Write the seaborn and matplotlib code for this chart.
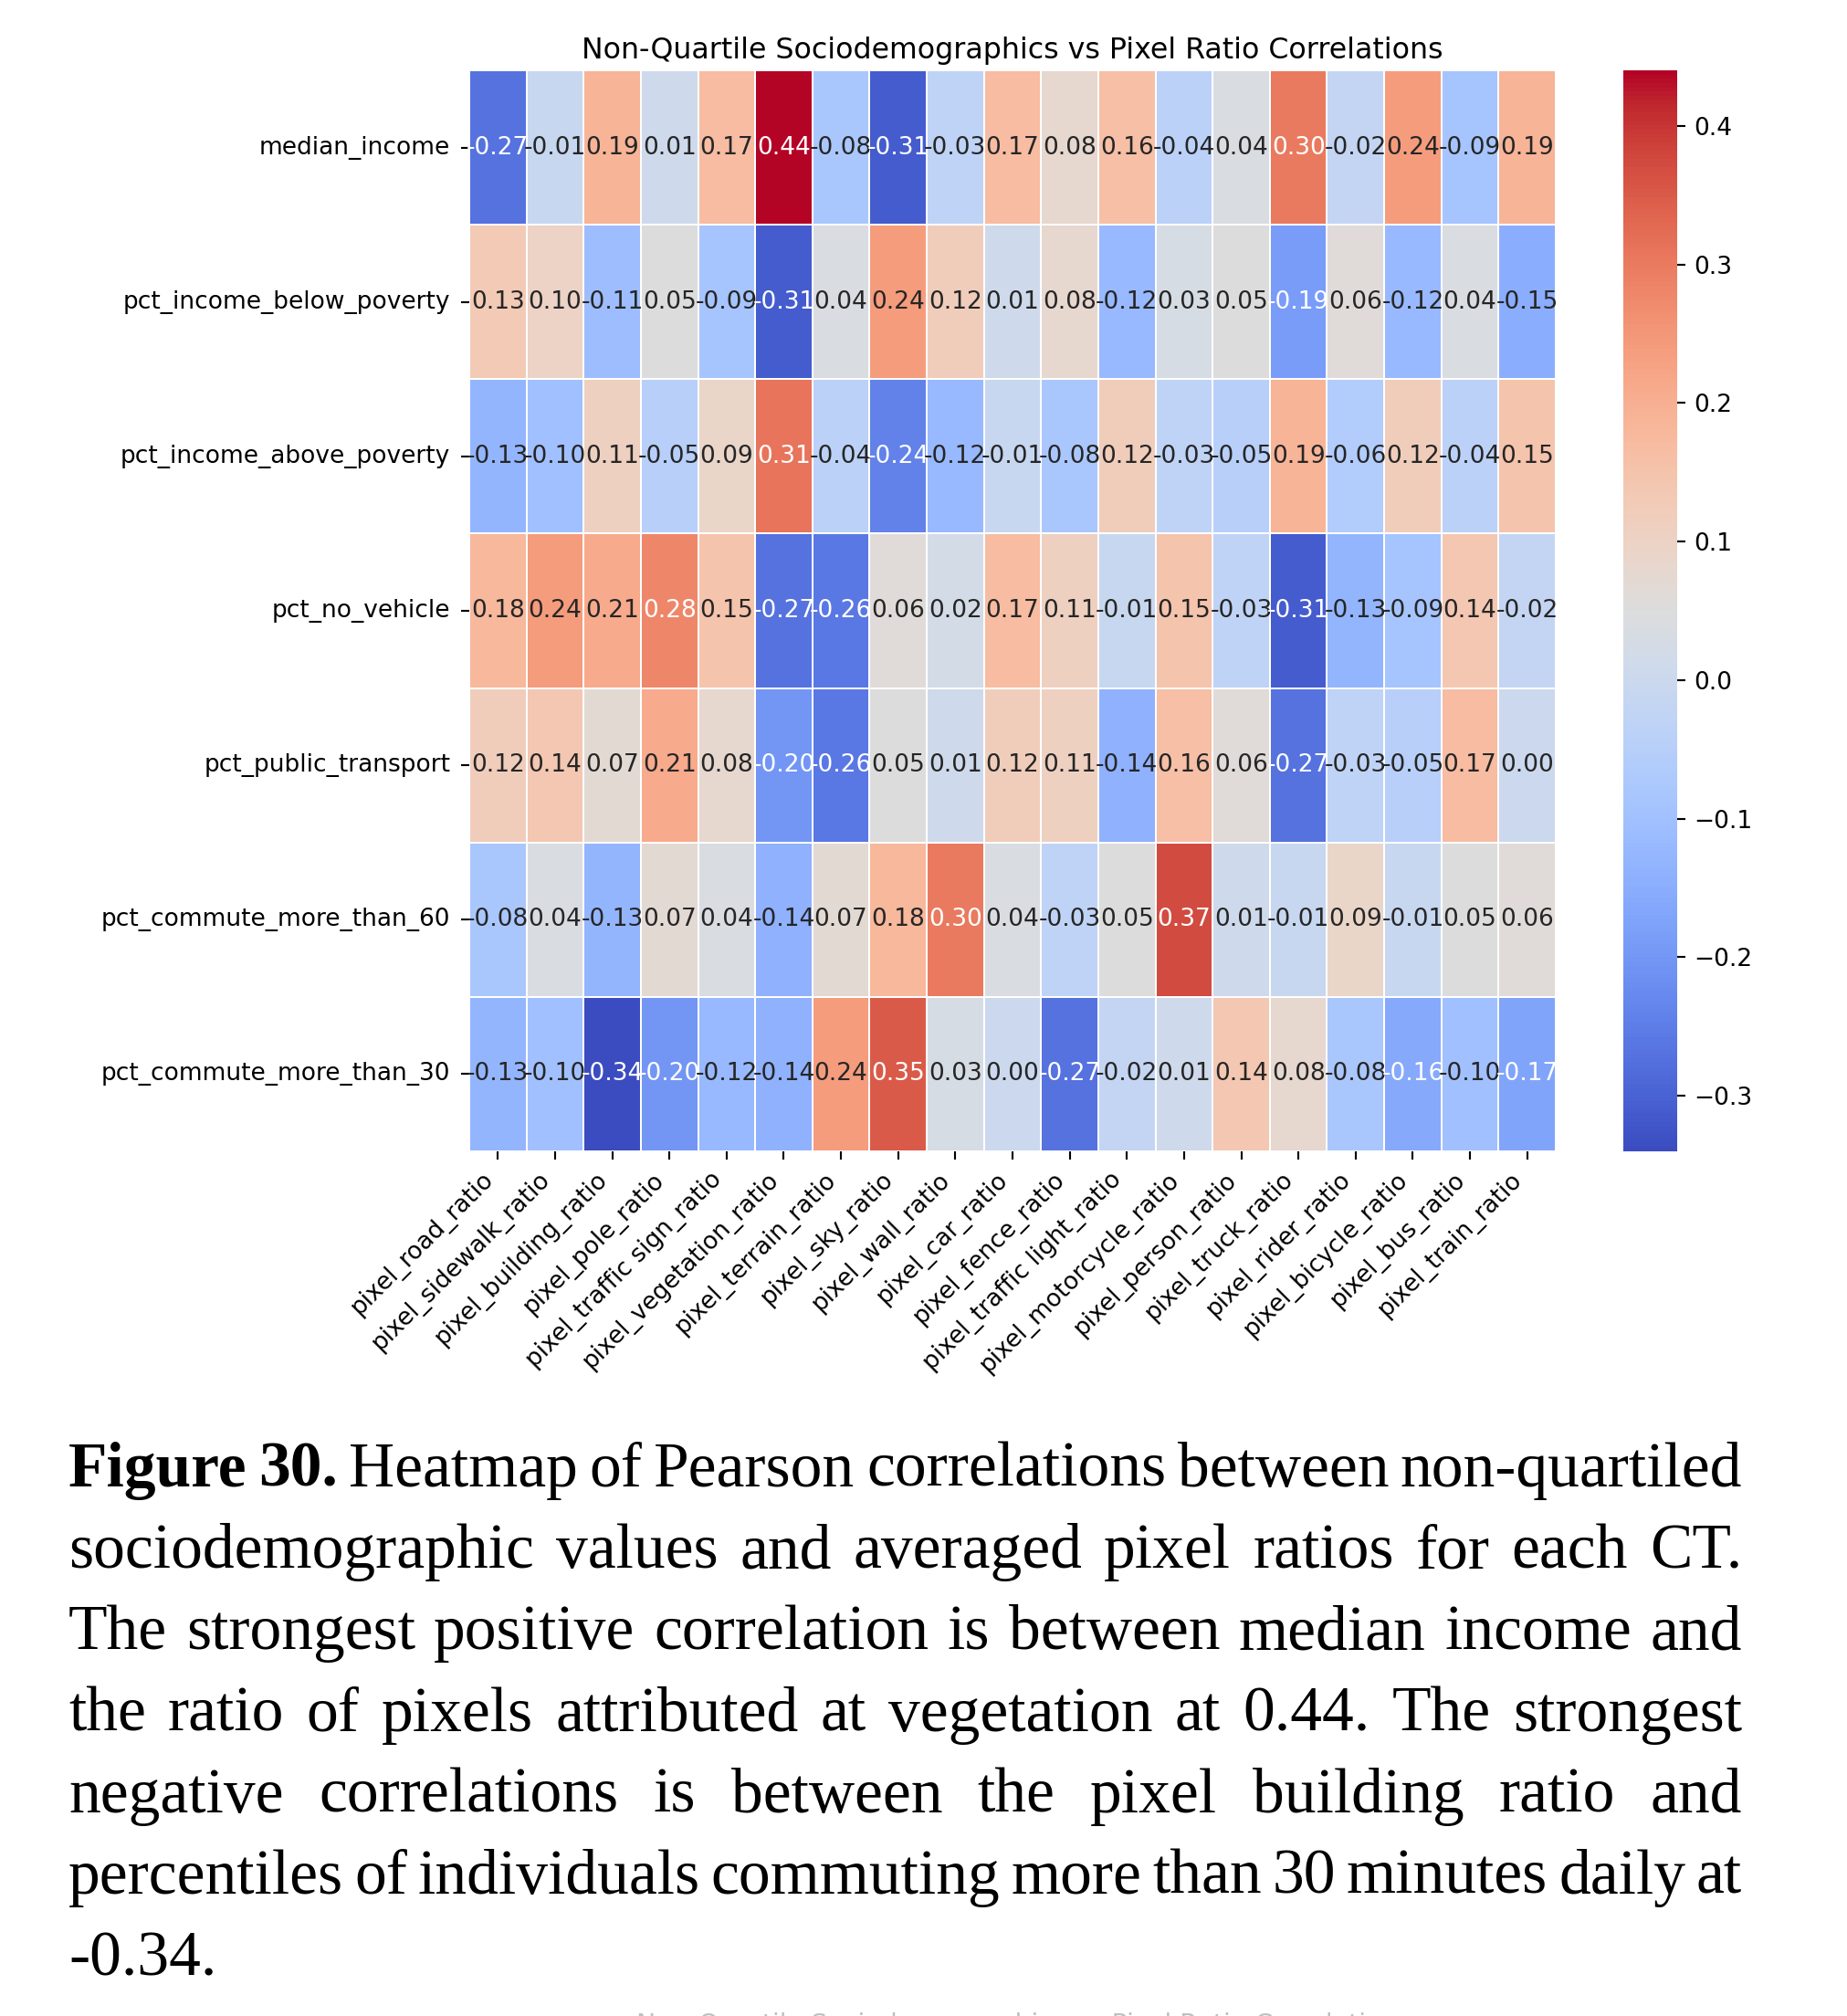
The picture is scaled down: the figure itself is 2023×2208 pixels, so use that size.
import matplotlib
matplotlib.use("Agg")
import matplotlib.pyplot as plt
import pandas as pd
import seaborn as sns
from matplotlib.transforms import IdentityTransform

# Rows (sociodemographics) and columns (pixel ratios)
rows = ["median_income", "pct_income_below_poverty", "pct_income_above_poverty",
        "pct_no_vehicle", "pct_public_transport", "pct_commute_more_than_60",
        "pct_commute_more_than_30"]
cols = ["pixel_road_ratio", "pixel_sidewalk_ratio", "pixel_building_ratio", "pixel_pole_ratio",
        "pixel_traffic sign_ratio", "pixel_vegetation_ratio", "pixel_terrain_ratio", "pixel_sky_ratio",
        "pixel_wall_ratio", "pixel_car_ratio", "pixel_fence_ratio", "pixel_traffic light_ratio",
        "pixel_motorcycle_ratio", "pixel_person_ratio", "pixel_truck_ratio", "pixel_rider_ratio",
        "pixel_bicycle_ratio", "pixel_bus_ratio", "pixel_train_ratio"]

median_income = [-0.27, -0.01, 0.19, 0.01, 0.17, 0.44, -0.08, -0.31, -0.03, 0.17,
                 0.08, 0.16, -0.04, 0.04, 0.30, -0.02, 0.24, -0.09, 0.19]
below_poverty = [0.13, 0.10, -0.11, 0.05, -0.09, -0.31, 0.04, 0.24, 0.12, 0.01,
                 0.08, -0.12, 0.03, 0.05, -0.19, 0.06, -0.12, 0.04, -0.15]
above_poverty = [-0.13, -0.10, 0.11, -0.05, 0.09, 0.31, -0.04, -0.24, -0.12, -0.01,
                 -0.08, 0.12, -0.03, -0.05, 0.19, -0.06, 0.12, -0.04, 0.15]
no_vehicle = [0.18, 0.24, 0.21, 0.28, 0.15, -0.27, -0.26, 0.06, 0.02, 0.17,
              0.11, -0.01, 0.15, -0.03, -0.31, -0.13, -0.09, 0.14, -0.02]
public_transport = [0.12, 0.14, 0.07, 0.21, 0.08, -0.20, -0.26, 0.05, 0.01, 0.12,
                    0.11, -0.14, 0.16, 0.06, -0.27, -0.03, -0.05, 0.17, 0.00]
commute_60 = [-0.08, 0.04, -0.13, 0.07, 0.04, -0.14, 0.07, 0.18, 0.30, 0.04,
              -0.03, 0.05, 0.37, 0.01, -0.01, 0.09, -0.01, 0.05, 0.06]
commute_30 = [-0.13, -0.10, -0.34, -0.20, -0.12, -0.14, 0.24, 0.35, 0.03, 0.00,
              -0.27, -0.02, 0.01, 0.14, 0.08, -0.08, -0.16, -0.10, -0.17]

title = "Non-Quartile Sociodemographics vs Pixel Ratio Correlations"
caption_lines = [
    "Figure 30. Heatmap of Pearson correlations between non-quartiled",
    "sociodemographic values and averaged pixel ratios for each CT.",
    "The strongest positive correlation is between median income and",
    "the ratio of pixels attributed at vegetation at 0.44. The strongest",
    "negative correlations is between the pixel building ratio and",
    "percentiles of individuals commuting more than 30 minutes daily at",
    "-0.34.",
]

df = pd.DataFrame([median_income, below_poverty, above_poverty, no_vehicle,
                   public_transport, commute_60, commute_30], index=rows, columns=cols)

W, H = 2024, 2208
s = 1.9  # font scale (original rendered at a higher dpi)
fig = plt.figure(figsize=(W / 100, H / 100), dpi=100)
ax = fig.add_axes([514 / W, 1 - 1261 / H, 1190 / W, 1184 / H])
cax = fig.add_axes([1778 / W, 1 - 1261 / H, 59 / W, 1184 / H])

sns.heatmap(df, annot=True, fmt=".2f", cmap="coolwarm", linewidths=1.2, linecolor="white",
            ax=ax, cbar_ax=cax, annot_kws={"size": 10 * s})
ax.set_title(title, fontsize=12 * s, pad=5 * s)
ax.tick_params(labelsize=10 * s, length=3.3 * s, width=0.8 * s, pad=3.5 * s)
ax.tick_params(axis="y", pad=4.6 * s)
plt.setp(ax.get_xticklabels(), rotation=45, ha="right")
plt.setp(ax.get_yticklabels(), rotation=0)
cax.tick_params(labelsize=10 * s, length=3.3 * s, width=0.8 * s, pad=3.5 * s)

# Justified caption in serif, placed word by word in pixel coordinates
renderer = fig.canvas.get_renderer()
left, right = 75, 1908
base0, step = 1628, 89.2
fsize = 50

def measure(word, bold):
    t = fig.text(0, 0, word, fontsize=fsize, family="Liberation Serif",
                 weight="bold" if bold else "normal", transform=IdentityTransform())
    w = t.get_window_extent(renderer).width
    return t, w

for i, line in enumerate(caption_lines):
    words = line.split(" ")
    items = []
    for j, wd in enumerate(words):
        bold = (i == 0 and j < 2)
        items.append(measure(wd, bold))
    y = H - (base0 + i * step)
    total = sum(w for _, w in items)
    if i < len(caption_lines) - 1 and len(items) > 1:
        gap = (right - left - total) / (len(items) - 1)
    else:
        gap = fsize * 100 / 72 * 0.25
    x = left
    for t, w in items:
        t.set_position((x, y))
        t.set_va("baseline")
        x += w + gap

# top of the next figure's title, cut off at the bottom edge
fig.text(1122 / W, 4 / H, title, fontsize=10.8 * s, color="#c0c0c0", ha="center", va="top")

fig.savefig("out.png", dpi=100)
